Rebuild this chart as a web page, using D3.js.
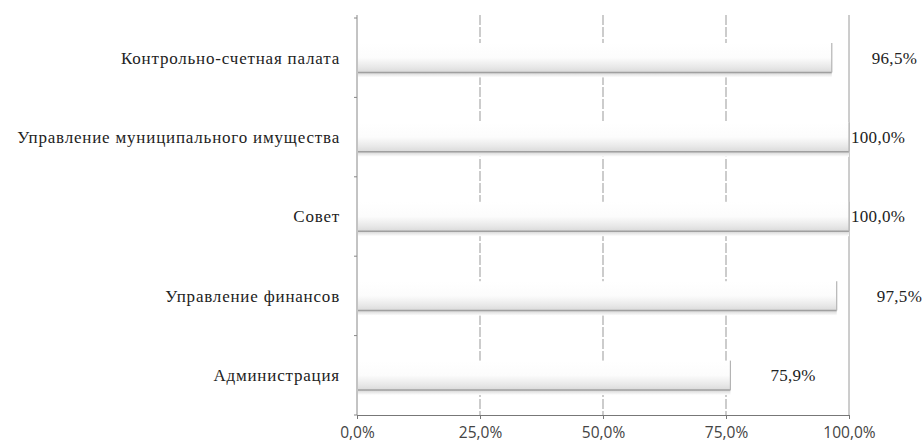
<!DOCTYPE html>
<html><head><meta charset="utf-8">
<script src="https://cdn.jsdelivr.net/npm/d3@7"></script>
<style>body{margin:0;background:#fff}svg{display:block}</style>
</head><body><div id="c"></div>
<script>
const categories = ["Контрольно-счетная палата","Управление муниципального имущества","Совет","Управление финансов","Администрация"];
const values = [96.5, 100.0, 100.0, 97.5, 75.9];
const tickValues = [0, 25, 50, 75, 100];
const tickLabels = ["0,0%","25,0%","50,0%","75,0%","100,0%"];
const valueLabels = ["96,5%","100,0%","100,0%","97,5%","75,9%"];

const W = 923, H = 445;
const m = {left: 357, right: 74, top: 18, bottom: 30};
const svg = d3.select("#c").append("svg").attr("width", W).attr("height", H);
const defs = svg.append("defs");
const g1 = defs.append("linearGradient").attr("id","bg").attr("x1",0).attr("y1",0).attr("x2",0).attr("y2",1);
g1.append("stop").attr("offset","0%").attr("stop-color","#ffffff");
g1.append("stop").attr("offset","50%").attr("stop-color","#fcfcfc");
g1.append("stop").attr("offset","82%").attr("stop-color","#e8e8e8");
g1.append("stop").attr("offset","100%").attr("stop-color","#dadada");
const g2 = defs.append("linearGradient").attr("id","sh").attr("x1",0).attr("y1",0).attr("x2",0).attr("y2",1);
g2.append("stop").attr("offset","0%").attr("stop-color","#d4d4d4");
g2.append("stop").attr("offset","100%").attr("stop-color","#ffffff");

const x = d3.scaleLinear().domain([0, 100]).range([m.left, W - m.right]);
const y = d3.scaleBand().domain(categories).range([m.top, H - m.bottom]).paddingInner(0.63).paddingOuter(0.315);

// gridlines
const grid = svg.append("g");
grid.selectAll("line").data(tickValues.filter(v => v > 0)).join("line")
  .attr("x1", d => x(d)).attr("x2", d => x(d))
  .attr("y1", m.top - 3).attr("y2", H - m.bottom)
  .attr("stroke", d => d === 100 ? "#9a9a9a" : "#999")
  .attr("stroke-width", 1)
  .attr("stroke-dasharray", d => d === 100 ? null : "10,2");

// bars
const bars = svg.append("g");
categories.forEach((c, i) => {
  const x0 = x(0) + 1, x1 = x(values[i]), y0 = y(c), h = y.bandwidth();
  bars.append("rect").attr("x", x0).attr("y", y0 + h).attr("width", x1 - x0).attr("height", 5).attr("fill", "url(#sh)");
  bars.append("rect").attr("x", x0).attr("y", y0).attr("width", x1 - x0).attr("height", h).attr("fill", "url(#bg)");
  bars.append("line").attr("x1", x0).attr("x2", x1).attr("y1", y0 + h).attr("y2", y0 + h).attr("stroke", "#a0a0a0").attr("stroke-width", 1.5);
  bars.append("line").attr("x1", x1).attr("x2", x1).attr("y1", y0).attr("y2", y0 + h).attr("stroke", "#b4b4b4").attr("stroke-width", 1.2);
});

// axes
const xAxis = d3.axisBottom(x).tickValues(tickValues).tickFormat((d, i) => tickLabels[i]).tickSize(4).tickSizeOuter(0);
const ax = svg.append("g").attr("transform", `translate(0,${H - m.bottom})`).call(xAxis);
ax.select(".domain").attr("stroke", "#777");
ax.selectAll(".tick line").attr("stroke", "#777");
ax.selectAll("text").attr("font-family", "'Open Sans', sans-serif").attr("font-size", 15.5).attr("fill", "#444").attr("dy", "1.0em");

const yl = svg.append("g");
yl.append("line").attr("x1", x(0)).attr("x2", x(0)).attr("y1", m.top - 3).attr("y2", H - m.bottom).attr("stroke", "#888");
const bounds = d3.range(categories.length + 1).map(i => m.top + i * (H - m.bottom - m.top) / categories.length);
yl.selectAll("line.t").data(bounds).join("line").attr("class","t")
  .attr("x1", x(0) - 3).attr("x2", x(0)).attr("y1", d => d).attr("y2", d => d).attr("stroke", "#888");

// category labels
svg.append("g").selectAll("text").data(categories).join("text")
  .attr("x", 340).attr("y", d => y(d) + y.bandwidth() / 2).attr("dy", "0.35em")
  .attr("text-anchor", "end").attr("font-family", "'Liberation Serif', serif").attr("font-size", 17)
  .attr("letter-spacing", 0.8).attr("fill", "#222")
  .text(d => d);

// value labels
svg.append("g").selectAll("text").data(categories).join("text")
  .attr("x", (d, i) => x(values[i]) + (values[i] >= 99.9 ? 2 : 40))
  .attr("y", d => y(d) + y.bandwidth() / 2).attr("dy", "0.35em")
  .attr("font-family", "'Liberation Serif', serif").attr("font-size", 17).attr("letter-spacing", 0.3).attr("fill", "#222")
  .text((d, i) => valueLabels[i]);
</script></body></html>
